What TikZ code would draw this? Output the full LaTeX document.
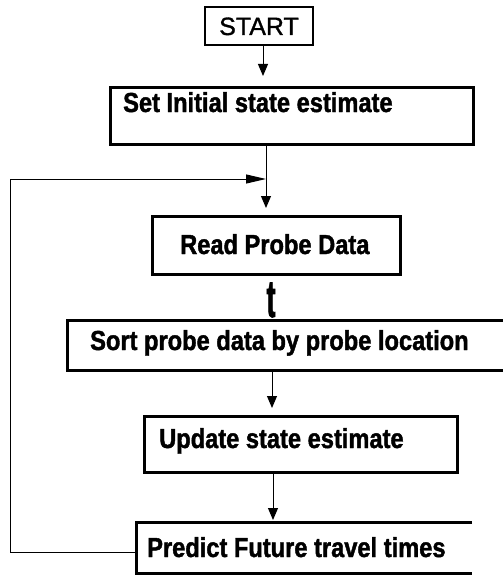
\documentclass[tikz,border=0pt]{standalone}
\usepackage{fontspec}
\setmainfont[FakeStretch=0.86, BoldFeatures={FakeBold=1.5}]{Liberation Sans}
\newfontfamily\startfont[FakeBold=1.2]{Liberation Sans}
\usetikzlibrary{arrows.meta}

\newcommand{\boxfont}{\fontsize{27.5}{30}\selectfont\bfseries}
\tikzset{
  box/.style={draw, line width=3pt, inner sep=0pt, outer sep=0pt},
  flow/.style={line width=1pt, -{Triangle[length=12pt,width=10pt]}},
  lbl/.style={anchor=base west, inner sep=0pt, font=\boxfont}
}

\begin{document}
\begin{tikzpicture}[x=1pt, y=-1pt]
    \useasboundingbox (0,0) rectangle (503,578);

    % Boxes
    \node[box, line width=2pt, minimum width=108pt, minimum height=38pt] (start) at (259,26) {};
    \node[box, minimum width=363pt, minimum height=57pt] (set) at (291.5,115.5) {};
    \node[box, minimum width=248pt, minimum height=58pt] (read) at (276,245) {};
    \node[box, minimum width=439pt, minimum height=50pt] (sort) at (286.5,345) {};
    \node[box, minimum width=313pt, minimum height=56pt] (update) at (300.5,444) {};
    \node[inner sep=0pt, outer sep=0pt, minimum width=336pt, minimum height=51pt] (predict) at (304,547.5) {};
    \draw[line width=3pt] (predict.north east) -- (predict.north west)
        -- (predict.south west) -- (predict.south east);

    % Texts
    \node[anchor=base, inner sep=0pt, font=\startfont\fontsize{25}{28}\selectfont] (tstart) at (259,35) {START};
    \node[lbl] (tset) at (123,112) {Set Initial state estimate};
    \node[lbl] (tread) at (180,254) {Read Probe Data};
    \node[anchor=base, inner sep=0pt, font=\fontsize{53}{53}\selectfont\bfseries] (tmark) at (271,317) {\scalebox{0.6}[1]{t}};
    \node[lbl] (tsort) at (90,350) {Sort probe data by probe location};
    \node[lbl] (tupdate) at (159,448) {Update state estimate};
    \node[lbl] (tpredict) at (147,557) {Predict Future travel times};

    % Connectors
    \coordinate (fb) at (266,179);
    \coordinate (loop) at (10,179);
    \draw[flow, shorten >=11pt] ([xshift=4pt]start.south) -- ([xshift=4pt]start.south |- set.north);
    \draw[flow, shorten >=8pt] (set.south -| fb) -- (fb |- read.north);
    \draw[flow, shorten >=8pt] ([xshift=-14.5pt]sort.south) -- ([xshift=-14.5pt]sort.south |- update.north);
    \draw[flow, shorten >=2pt] ([xshift=-27.5pt]update.south) -- ([xshift=-27.5pt]update.south |- predict.north);

    % Feedback loop
    \draw[line width=1pt, -{Triangle[length=20pt,width=9pt]}]
        ([yshift=-5pt]predict.west) -| (loop) -- (fb);
\end{tikzpicture}
\end{document}
